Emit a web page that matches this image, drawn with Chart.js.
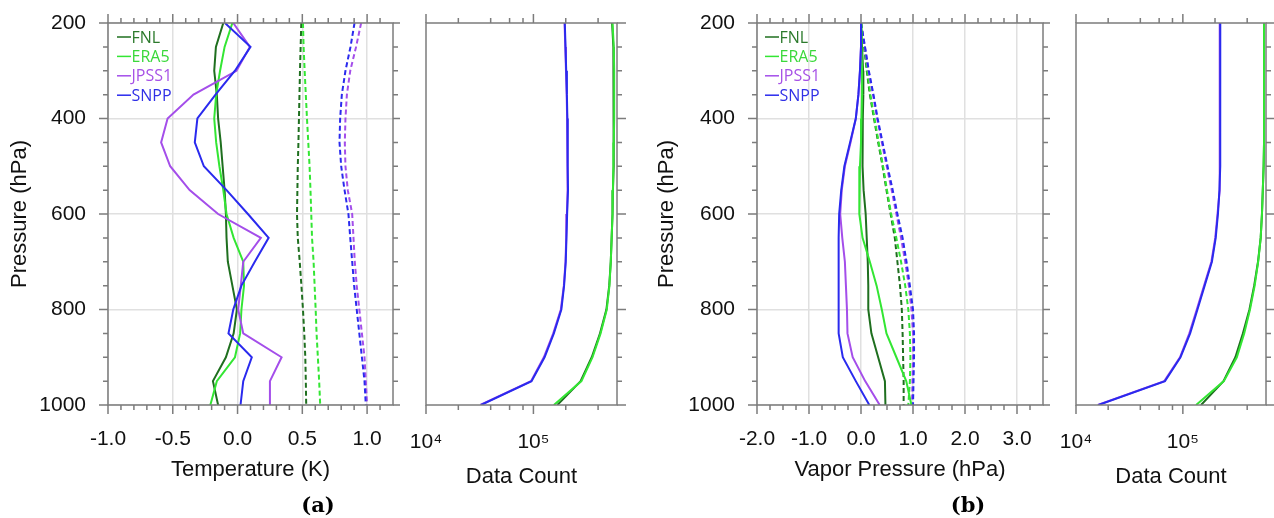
<!DOCTYPE html>
<html>
<head>
<meta charset="utf-8">
<script src="https://cdn.jsdelivr.net/npm/chart.js@4.4.1/dist/chart.umd.min.js"></script>
<style>
html,body{margin:0;padding:0;background:#fff;width:1274px;height:518px;overflow:hidden;}
.pane{position:absolute;top:0;height:518px;}
.tag{position:absolute;top:492px;font:bold 21px "DejaVu Serif",serif;color:#000;transform:translateX(-50%);white-space:nowrap;}
</style>
</head>
<body>
<div class="pane" style="left:0;width:400px"><canvas id="c1"></canvas></div>
<div class="pane" style="left:400px;width:240px"><canvas id="c2"></canvas></div>
<div class="pane" style="left:640px;width:410px"><canvas id="c3"></canvas></div>
<div class="pane" style="left:1050px;width:224px"><canvas id="c4"></canvas></div>
<div class="tag" style="left:318px">(a)</div>
<div class="tag" style="left:968px">(b)</div>
<script>
// ---------------- data ----------------
const levels = [200,250,300,350,400,450,500,550,600,650,700,750,800,850,900,950,1000];
const seriesNames = ['FNL','ERA5','JPSS1','SNPP'];

// (a) temperature bias (solid) and RMSE (dashed), K
const tBiasFNL   = [-0.11,-0.167,-0.18,-0.16,-0.15,-0.13,-0.115,-0.10,-0.09,-0.085,-0.075,-0.04,-0.005,-0.03,-0.09,-0.19,-0.15];
const tBiasERA5  = [-0.04,-0.10,-0.135,-0.165,-0.18,-0.165,-0.14,-0.11,-0.085,-0.03,0.044,0.05,0.03,0.02,-0.02,-0.16,-0.21];
const tBiasJPSS1 = [-0.033,0.095,-0.008,-0.34,-0.54,-0.59,-0.52,-0.37,-0.15,0.18,0.044,0.025,0.005,0.044,0.34,0.25,0.25];
const tBiasSNPP  = [-0.097,0.10,-0.02,-0.17,-0.31,-0.33,-0.26,-0.085,0.08,0.24,0.133,0.03,-0.033,-0.07,0.11,0.044,0.023];
const tRmseFNL   = [0.492,0.487,0.482,0.478,0.474,0.47,0.465,0.462,0.459,0.465,0.48,0.493,0.505,0.515,0.523,0.527,0.53];
const tRmseERA5  = [0.505,0.51,0.518,0.527,0.536,0.546,0.556,0.563,0.569,0.575,0.587,0.595,0.603,0.61,0.62,0.63,0.638];
const tRmseJPSS1 = [0.954,0.915,0.87,0.844,0.833,0.828,0.833,0.851,0.885,0.895,0.905,0.92,0.94,0.96,0.98,0.99,1.0];
const tRmseSNPP  = [0.903,0.872,0.833,0.805,0.792,0.787,0.80,0.826,0.856,0.87,0.885,0.90,0.92,0.94,0.96,0.98,0.99];

// (a) data counts
const cntA_FNL   = [5.4e5,5.55e5,5.6e5,5.6e5,5.6e5,5.6e5,5.55e5,5.5e5,5.45e5,5.35e5,5.25e5,5.08e5,4.78e5,4.17e5,3.49e5,2.75e5,1.67e5];
const cntA_ERA5  = [5.45e5,5.6e5,5.65e5,5.65e5,5.65e5,5.6e5,5.55e5,5.5e5,5.45e5,5.35e5,5.25e5,5.1e5,4.82e5,4.22e5,3.55e5,2.8e5,1.55e5];
const cntA_JPSS1 = [1.95e5,1.98e5,2.01e5,2.04e5,2.06e5,2.07e5,2.08e5,2.09e5,2.05e5,2.02e5,1.99e5,1.92e5,1.80e5,1.53e5,1.25e5,9.5e4,3.2e4];
const cntA_SNPP  = [1.96e5,1.99e5,2.02e5,2.05e5,2.07e5,2.08e5,2.09e5,2.10e5,2.06e5,2.03e5,2.00e5,1.93e5,1.82e5,1.55e5,1.27e5,9.6e4,3.25e4];

// (b) vapor pressure bias (solid) and RMSE (dashed), hPa
const vBiasFNL   = [0,0.02,0.04,0.045,0.035,0.03,0.03,0.05,0.09,0.11,0.13,0.14,0.14,0.20,0.33,0.46,0.47];
const vBiasERA5  = [0,0.01,0.02,0.02,0.01,0,-0.02,-0.03,-0.035,0.03,0.17,0.30,0.40,0.49,0.68,0.87,0.97];
const vBiasJPSS1 = [0,0,-0.02,-0.05,-0.10,-0.20,-0.31,-0.37,-0.40,-0.36,-0.31,-0.29,-0.27,-0.26,-0.16,0.08,0.36];
const vBiasSNPP  = [0,0,-0.02,-0.05,-0.10,-0.21,-0.32,-0.38,-0.42,-0.43,-0.43,-0.43,-0.43,-0.43,-0.35,-0.10,0.16];
const vRmseFNL   = [0,0.06,0.11,0.17,0.25,0.33,0.415,0.49,0.57,0.65,0.70,0.75,0.785,0.80,0.81,0.82,0.82];
const vRmseERA5  = [0,0.065,0.12,0.18,0.26,0.34,0.425,0.50,0.58,0.68,0.77,0.85,0.91,0.94,0.95,0.94,0.91];
const vRmseJPSS1 = [0,0.075,0.145,0.23,0.31,0.40,0.495,0.59,0.68,0.77,0.85,0.92,0.97,1.0,1.0,0.99,0.98];
const vRmseSNPP  = [0,0.077,0.15,0.24,0.32,0.415,0.51,0.61,0.70,0.80,0.875,0.94,1.0,1.02,1.02,1.01,1.0];

// (b) data counts
const cntB_FNL   = [5.75e5,5.75e5,5.75e5,5.75e5,5.75e5,5.75e5,5.7e5,5.6e5,5.5e5,5.35e5,5.05e5,4.65e5,4.2e5,3.65e5,3.1e5,2.4e5,1.48e5];
const cntB_ERA5  = [5.75e5,5.75e5,5.75e5,5.75e5,5.75e5,5.75e5,5.7e5,5.6e5,5.5e5,5.35e5,5.07e5,4.7e5,4.25e5,3.75e5,3.2e5,2.42e5,1.33e5];
const cntB_JPSS1 = [2.22e5,2.22e5,2.22e5,2.22e5,2.22e5,2.22e5,2.21e5,2.18e5,2.11e5,2.01e5,1.85e5,1.58e5,1.35e5,1.15e5,9.4e4,6.7e4,1.6e4];
const cntB_SNPP  = [2.24e5,2.24e5,2.24e5,2.24e5,2.24e5,2.24e5,2.23e5,2.20e5,2.13e5,2.03e5,1.87e5,1.60e5,1.37e5,1.17e5,9.5e4,6.8e4,1.62e4];

// ticks
const pMajor = [200,400,600,800,1000];
const pMinor = [250,300,350,450,500,550,650,700,750,850,900,950];
const tempMajor = [-1.0,-0.5,0.0,0.5,1.0];
const tempMinor = [-0.9,-0.8,-0.7,-0.6,-0.4,-0.3,-0.2,-0.1,0.1,0.2,0.3,0.4,0.6,0.7,0.8,0.9,1.1];
const vapMajor = [-2.0,-1.0,0.0,1.0,2.0,3.0];
const vapMinor = [-1.75,-1.5,-1.25,-0.75,-0.5,-0.25,0.25,0.5,0.75,1.25,1.5,1.75,2.25,2.5,2.75,3.25];
const cntMajor = [1e4,1e5];
const cntMajorLabels = ['10\u2074','10\u2075'];
const cntMinor = [2e4,4e4,6e4,8e4,2e5,4e5];

// ---------------- styles ----------------
const lineColors = ['#1f6f1f','#33e633','#a44eea','#2a2aee'];
const textColors = ['#2c7a2c','#3ad83a','#a752e6','#3030e6'];
const FRAME = '#7c7c7c';
const GRID = '#e0e0e0';
const FONT = 'Liberation Sans';
const TICK_SIZE = 21;
const TITLE_SIZE = 22;

function mkSeries(vals, idx, dashed) {
  return {
    label: seriesNames[idx],
    data: levels.map((p, i) => ({x: vals[i], y: p})),
    borderColor: lineColors[idx],
    backgroundColor: lineColors[idx],
    borderWidth: 2,
    borderDash: dashed ? [5, 3] : [],
    showLine: true, pointRadius: 0, fill: false, tension: 0,
    order: (dashed ? 20 : 10) - idx,
    inLegend: !dashed
  };
}

function framePlugin(o) {
  return {
    id: 'frameTicks',
    afterDraw(chart) {
      const {ctx, chartArea: a} = chart;
      const xs = chart.scales.x, ys = chart.scales.y;
      ctx.save();
      ctx.strokeStyle = FRAME; ctx.lineWidth = 1.5; ctx.lineCap = 'butt';
      ctx.beginPath();
      const xt = (vals, len) => vals.forEach(v => {
        const px = xs.getPixelForValue(v);
        if (o.xSides.includes('bottom')) { ctx.moveTo(px, a.bottom); ctx.lineTo(px, a.bottom + len); }
        if (o.xSides.includes('top')) { ctx.moveTo(px, a.top); ctx.lineTo(px, a.top - len); }
      });
      const yt = (vals, len) => vals.forEach(v => {
        const py = ys.getPixelForValue(v);
        if (o.ySides.includes('left')) { ctx.moveTo(a.left, py); ctx.lineTo(a.left - len, py); }
        if (o.ySides.includes('right')) { ctx.moveTo(a.right, py); ctx.lineTo(a.right + len, py); }
      });
      xt(o.xMajor, 9); xt(o.xMinor, 5);
      yt(pMajor, 9); yt(pMinor, 5);
      ctx.stroke();
      ctx.strokeRect(a.left, a.top, a.right - a.left, a.bottom - a.top);
      ctx.restore();
    }
  };
}

function legendPlugin(x0) {
  return {
    id: 'inLegend',
    afterDatasetsDraw(chart) {
      const {ctx, chartArea: a} = chart;
      const items = chart.data.datasets.filter(d => d.inLegend);
      ctx.save();
      ctx.font = '16px "Open Sans"';
      ctx.textBaseline = 'middle';
      items.forEach((d, i) => {
        const idx = seriesNames.indexOf(d.label);
        const y = a.top + 14 + i * 19.4;
        ctx.strokeStyle = d.borderColor; ctx.lineWidth = 1.5;
        ctx.beginPath(); ctx.moveTo(a.left + x0, y); ctx.lineTo(a.left + x0 + 14, y); ctx.stroke();
        ctx.fillStyle = textColors[idx];
        ctx.fillText(d.label, a.left + x0 + 14.5, y + 1);
      });
      ctx.restore();
    }
  };
}

function yAxis(width, showLabels, titlePad, grid) {
  return {
    type: 'linear', reverse: true, min: 200, max: 1000, position: 'left',
    afterBuildTicks: s => { s.ticks = pMajor.map(v => ({value: v})); },
    afterFit: s => { s.width = width; },
    ticks: { display: showLabels, padding: 0, color: '#111', font: {family: FONT, size: TICK_SIZE}, callback: v => String(v) },
    grid: { display: true, drawOnChartArea: grid, drawTicks: true, tickLength: 22, tickColor: 'rgba(0,0,0,0)', color: GRID, lineWidth: 1.5 },
    border: { display: false },
    title: { display: showLabels, text: 'Pressure (hPa)', color: '#111', font: {family: FONT, size: TITLE_SIZE, lineHeight: 1.2}, padding: {top: titlePad, bottom: 0} }
  };
}

function profileChart(id, rightPad, yWidth, yTitlePad, legendX, xMin, xMax, xMajor, xMinor, xTitle, bias, rmse) {
  const ds = [];
  bias.forEach((v, i) => ds.push(mkSeries(v, i, false)));
  rmse.forEach((v, i) => ds.push(mkSeries(v, i, true)));
  return new Chart(document.getElementById(id), {
    type: 'scatter',
    data: { datasets: ds },
    options: {
      responsive: true, maintainAspectRatio: false, animation: false, events: [],
      layout: { padding: { top: 23, right: rightPad, left: 0, bottom: 0 } },
      plugins: { legend: { display: false }, tooltip: { enabled: false } },
      scales: {
        x: {
          type: 'linear', min: xMin, max: xMax, position: 'bottom',
          afterBuildTicks: s => { s.ticks = xMajor.map(v => ({value: v})); },
          afterFit: s => { s.height = 113; },
          ticks: { padding: 0, maxRotation: 0, autoSkip: false, color: '#111', font: {family: FONT, size: TICK_SIZE}, callback: v => Number(v).toFixed(1) },
          grid: { drawTicks: true, tickLength: 22, tickColor: 'rgba(0,0,0,0)', color: GRID, lineWidth: 1.5 },
          border: { display: false },
          title: { display: true, text: xTitle, color: '#111', font: {family: FONT, size: TITLE_SIZE, lineHeight: 1.2}, padding: {top: 0, bottom: 35} }
        },
        y: yAxis(yWidth, true, yTitlePad, true)
      }
    },
    plugins: [framePlugin({xMajor, xMinor, xSides: ['top','bottom'], ySides: ['left','right']}), legendPlugin(legendX)]
  });
}

function countChart(id, rightPad, counts) {
  const ds = counts.map((v, i) => mkSeries(v, i, false));
  return new Chart(document.getElementById(id), {
    type: 'scatter',
    data: { datasets: ds },
    options: {
      responsive: true, maintainAspectRatio: false, animation: false, events: [],
      layout: { padding: { top: 23, right: rightPad, left: 0, bottom: 0 } },
      plugins: { legend: { display: false }, tooltip: { enabled: false } },
      scales: {
        x: {
          type: 'logarithmic', min: 1e4, max: 6e5, position: 'bottom',
          afterBuildTicks: s => { s.ticks = cntMajor.map(v => ({value: v})); },
          afterFit: s => { s.height = 113; },
          ticks: { padding: 0, maxRotation: 0, autoSkip: false, color: '#111', font: {family: FONT, size: TICK_SIZE}, callback: (v, i) => cntMajorLabels[i] },
          grid: { drawOnChartArea: false, drawTicks: true, tickLength: 25, tickColor: 'rgba(0,0,0,0)' },
          border: { display: false },
          title: { display: true, text: 'Data Count', color: '#111', font: {family: FONT, size: TITLE_SIZE, lineHeight: 1.2}, padding: {top: 0, bottom: 28} }
        },
        y: yAxis(26, false, 0, false)
      }
    },
    plugins: [framePlugin({xMajor: cntMajor, xMinor: cntMinor, xSides: ['top','bottom'], ySides: ['right']})]
  });
}

profileChart('c1', 7, 108, 7, 9, -1.0, 1.2, tempMajor, tempMinor, 'Temperature (K)',
  [tBiasFNL, tBiasERA5, tBiasJPSS1, tBiasSNPP], [tRmseFNL, tRmseERA5, tRmseJPSS1, tRmseSNPP]);
countChart('c2', 23, [cntA_FNL, cntA_ERA5, cntA_JPSS1, cntA_SNPP]);
profileChart('c3', 7, 117, 14, 8, -2.0, 3.5, vapMajor, vapMinor, 'Vapor Pressure (hPa)',
  [vBiasFNL, vBiasERA5, vBiasJPSS1, vBiasSNPP], [vRmseFNL, vRmseERA5, vRmseJPSS1, vRmseSNPP]);
countChart('c4', 8, [cntB_FNL, cntB_ERA5, cntB_JPSS1, cntB_SNPP]);
</script>
</body>
</html>
